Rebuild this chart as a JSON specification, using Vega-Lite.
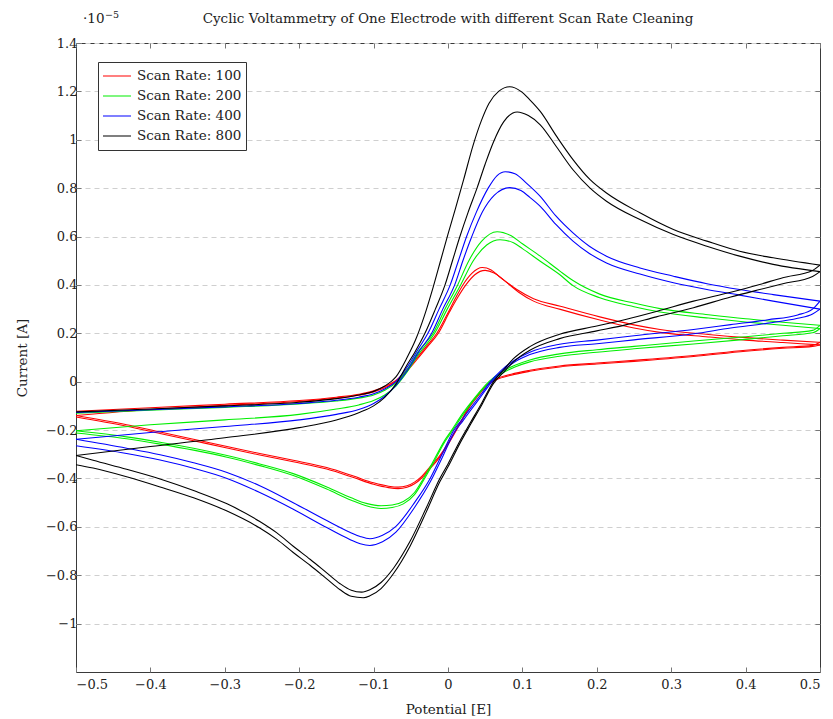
{
  "$schema": "https://vega.github.io/schema/vega-lite/v6.json",
  "width": 744,
  "height": 629,
  "autosize": {"type": "none"},
  "padding": {"left": 76, "top": 43, "right": 13, "bottom": 47},
  "background": "white",
  "title": {
    "text": "Cyclic Voltammetry of One Electrode with different Scan Rate Cleaning",
    "font": "DejaVu Serif",
    "fontSize": 13.5,
    "fontWeight": "normal",
    "color": "#222",
    "anchor": "middle",
    "baseline": "alphabetic",
    "offset": -26
  },
  "config": {
    "view": {"stroke": "#3a3a3a", "strokeWidth": 1},
    "font": "DejaVu Serif",
    "axis": {
      "labelFont": "DejaVu Serif",
      "labelFontSize": 13,
      "labelColor": "#222",
      "titleFont": "DejaVu Serif",
      "titleFontSize": 13.5,
      "titleFontWeight": "normal",
      "titleColor": "#222",
      "tickColor": "#777",
      "tickSize": -5,
      "domain": false,
      "grid": false
    }
  },
  "datasets": {
    "cv": [
      {"rate":100,"pass":"f1","E":-0.5,"I":-0.122},{"rate":100,"pass":"f1","E":-0.4,"I":-0.108},{"rate":100,"pass":"f1","E":-0.3,"I":-0.093},{"rate":100,"pass":"f1","E":-0.2,"I":-0.078},{"rate":100,"pass":"f1","E":-0.15,"I":-0.064},{"rate":100,"pass":"f1","E":-0.12,"I":-0.052},{"rate":100,"pass":"f1","E":-0.1,"I":-0.038},{"rate":100,"pass":"f1","E":-0.085,"I":-0.02},{"rate":100,"pass":"f1","E":-0.07,"I":0.005},{"rate":100,"pass":"f1","E":-0.055,"I":0.05},{"rate":100,"pass":"f1","E":-0.04,"I":0.105},{"rate":100,"pass":"f1","E":-0.028,"I":0.15},{"rate":100,"pass":"f1","E":-0.015,"I":0.2},{"rate":100,"pass":"f1","E":0.0,"I":0.285},{"rate":100,"pass":"f1","E":0.01,"I":0.345},{"rate":100,"pass":"f1","E":0.02,"I":0.4},{"rate":100,"pass":"f1","E":0.032,"I":0.448},{"rate":100,"pass":"f1","E":0.046,"I":0.472},{"rate":100,"pass":"f1","E":0.058,"I":0.462},{"rate":100,"pass":"f1","E":0.07,"I":0.432},{"rate":100,"pass":"f1","E":0.092,"I":0.382},{"rate":100,"pass":"f1","E":0.115,"I":0.343},{"rate":100,"pass":"f1","E":0.151,"I":0.312},{"rate":100,"pass":"f1","E":0.204,"I":0.268},{"rate":100,"pass":"f1","E":0.25,"I":0.235},{"rate":100,"pass":"f1","E":0.285,"I":0.216},{"rate":100,"pass":"f1","E":0.35,"I":0.195},{"rate":100,"pass":"f1","E":0.4,"I":0.182},{"rate":100,"pass":"f1","E":0.45,"I":0.172},{"rate":100,"pass":"f1","E":0.5,"I":0.163},
      {"rate":100,"pass":"r1","E":0.5,"I":0.163},{"rate":100,"pass":"r1","E":0.49,"I":0.15},{"rate":100,"pass":"r1","E":0.45,"I":0.142},{"rate":100,"pass":"r1","E":0.4,"I":0.13},{"rate":100,"pass":"r1","E":0.33,"I":0.108},{"rate":100,"pass":"r1","E":0.25,"I":0.088},{"rate":100,"pass":"r1","E":0.2,"I":0.077},{"rate":100,"pass":"r1","E":0.15,"I":0.065},{"rate":100,"pass":"r1","E":0.11,"I":0.047},{"rate":100,"pass":"r1","E":0.085,"I":0.031},{"rate":100,"pass":"r1","E":0.065,"I":0.012},{"rate":100,"pass":"r1","E":0.053,"I":-0.01},{"rate":100,"pass":"r1","E":0.04,"I":-0.055},{"rate":100,"pass":"r1","E":0.03,"I":-0.095},{"rate":100,"pass":"r1","E":0.016,"I":-0.17},{"rate":100,"pass":"r1","E":0.0,"I":-0.255},{"rate":100,"pass":"r1","E":-0.012,"I":-0.31},{"rate":100,"pass":"r1","E":-0.025,"I":-0.355},{"rate":100,"pass":"r1","E":-0.035,"I":-0.39},{"rate":100,"pass":"r1","E":-0.045,"I":-0.415},{"rate":100,"pass":"r1","E":-0.055,"I":-0.43},{"rate":100,"pass":"r1","E":-0.067,"I":-0.436},{"rate":100,"pass":"r1","E":-0.08,"I":-0.432},{"rate":100,"pass":"r1","E":-0.1,"I":-0.418},{"rate":100,"pass":"r1","E":-0.127,"I":-0.39},{"rate":100,"pass":"r1","E":-0.163,"I":-0.355},{"rate":100,"pass":"r1","E":-0.208,"I":-0.325},{"rate":100,"pass":"r1","E":-0.253,"I":-0.297},{"rate":100,"pass":"r1","E":-0.297,"I":-0.268},{"rate":100,"pass":"r1","E":-0.342,"I":-0.238},{"rate":100,"pass":"r1","E":-0.387,"I":-0.208},{"rate":100,"pass":"r1","E":-0.432,"I":-0.178},{"rate":100,"pass":"r1","E":-0.5,"I":-0.14},
      {"rate":100,"pass":"f2","E":-0.5,"I":-0.14},{"rate":100,"pass":"f2","E":-0.4,"I":-0.115},{"rate":100,"pass":"f2","E":-0.3,"I":-0.098},{"rate":100,"pass":"f2","E":-0.2,"I":-0.082},{"rate":100,"pass":"f2","E":-0.15,"I":-0.068},{"rate":100,"pass":"f2","E":-0.12,"I":-0.056},{"rate":100,"pass":"f2","E":-0.1,"I":-0.042},{"rate":100,"pass":"f2","E":-0.085,"I":-0.025},{"rate":100,"pass":"f2","E":-0.07,"I":0.0},{"rate":100,"pass":"f2","E":-0.055,"I":0.044},{"rate":100,"pass":"f2","E":-0.04,"I":0.098},{"rate":100,"pass":"f2","E":-0.028,"I":0.143},{"rate":100,"pass":"f2","E":-0.013,"I":0.2},{"rate":100,"pass":"f2","E":0.002,"I":0.288},{"rate":100,"pass":"f2","E":0.013,"I":0.348},{"rate":100,"pass":"f2","E":0.024,"I":0.4},{"rate":100,"pass":"f2","E":0.036,"I":0.442},{"rate":100,"pass":"f2","E":0.05,"I":0.46},{"rate":100,"pass":"f2","E":0.062,"I":0.449},{"rate":100,"pass":"f2","E":0.075,"I":0.42},{"rate":100,"pass":"f2","E":0.095,"I":0.37},{"rate":100,"pass":"f2","E":0.115,"I":0.333},{"rate":100,"pass":"f2","E":0.151,"I":0.299},{"rate":100,"pass":"f2","E":0.204,"I":0.255},{"rate":100,"pass":"f2","E":0.25,"I":0.222},{"rate":100,"pass":"f2","E":0.285,"I":0.204},{"rate":100,"pass":"f2","E":0.35,"I":0.185},{"rate":100,"pass":"f2","E":0.4,"I":0.172},{"rate":100,"pass":"f2","E":0.45,"I":0.162},{"rate":100,"pass":"f2","E":0.5,"I":0.152},
      {"rate":100,"pass":"r2","E":0.5,"I":0.152},{"rate":100,"pass":"r2","E":0.49,"I":0.146},{"rate":100,"pass":"r2","E":0.45,"I":0.138},{"rate":100,"pass":"r2","E":0.4,"I":0.126},{"rate":100,"pass":"r2","E":0.33,"I":0.104},{"rate":100,"pass":"r2","E":0.25,"I":0.084},{"rate":100,"pass":"r2","E":0.2,"I":0.073},{"rate":100,"pass":"r2","E":0.15,"I":0.061},{"rate":100,"pass":"r2","E":0.11,"I":0.043},{"rate":100,"pass":"r2","E":0.085,"I":0.027},{"rate":100,"pass":"r2","E":0.065,"I":0.008},{"rate":100,"pass":"r2","E":0.053,"I":-0.014},{"rate":100,"pass":"r2","E":0.04,"I":-0.06},{"rate":100,"pass":"r2","E":0.03,"I":-0.1},{"rate":100,"pass":"r2","E":0.016,"I":-0.175},{"rate":100,"pass":"r2","E":0.0,"I":-0.26},{"rate":100,"pass":"r2","E":-0.012,"I":-0.316},{"rate":100,"pass":"r2","E":-0.025,"I":-0.362},{"rate":100,"pass":"r2","E":-0.035,"I":-0.397},{"rate":100,"pass":"r2","E":-0.045,"I":-0.422},{"rate":100,"pass":"r2","E":-0.055,"I":-0.436},{"rate":100,"pass":"r2","E":-0.067,"I":-0.442},{"rate":100,"pass":"r2","E":-0.08,"I":-0.438},{"rate":100,"pass":"r2","E":-0.1,"I":-0.424},{"rate":100,"pass":"r2","E":-0.127,"I":-0.396},{"rate":100,"pass":"r2","E":-0.163,"I":-0.361},{"rate":100,"pass":"r2","E":-0.208,"I":-0.331},{"rate":100,"pass":"r2","E":-0.253,"I":-0.303},{"rate":100,"pass":"r2","E":-0.297,"I":-0.274},{"rate":100,"pass":"r2","E":-0.342,"I":-0.244},{"rate":100,"pass":"r2","E":-0.387,"I":-0.214},{"rate":100,"pass":"r2","E":-0.432,"I":-0.184},{"rate":100,"pass":"r2","E":-0.5,"I":-0.146},

      {"rate":200,"pass":"f1","E":-0.5,"I":-0.13},{"rate":200,"pass":"f1","E":-0.4,"I":-0.118},{"rate":200,"pass":"f1","E":-0.3,"I":-0.106},{"rate":200,"pass":"f1","E":-0.2,"I":-0.092},{"rate":200,"pass":"f1","E":-0.15,"I":-0.08},{"rate":200,"pass":"f1","E":-0.12,"I":-0.068},{"rate":200,"pass":"f1","E":-0.1,"I":-0.055},{"rate":200,"pass":"f1","E":-0.085,"I":-0.035},{"rate":200,"pass":"f1","E":-0.07,"I":-0.005},{"rate":200,"pass":"f1","E":-0.055,"I":0.05},{"rate":200,"pass":"f1","E":-0.04,"I":0.125},{"rate":200,"pass":"f1","E":-0.02,"I":0.2},{"rate":200,"pass":"f1","E":-0.004,"I":0.3},{"rate":200,"pass":"f1","E":0.013,"I":0.4},{"rate":200,"pass":"f1","E":0.028,"I":0.5},{"rate":200,"pass":"f1","E":0.045,"I":0.58},{"rate":200,"pass":"f1","E":0.066,"I":0.62},{"rate":200,"pass":"f1","E":0.085,"I":0.603},{"rate":200,"pass":"f1","E":0.1,"I":0.57},{"rate":200,"pass":"f1","E":0.124,"I":0.519},{"rate":200,"pass":"f1","E":0.15,"I":0.458},{"rate":200,"pass":"f1","E":0.168,"I":0.418},{"rate":200,"pass":"f1","E":0.204,"I":0.362},{"rate":200,"pass":"f1","E":0.25,"I":0.325},{"rate":200,"pass":"f1","E":0.285,"I":0.302},{"rate":200,"pass":"f1","E":0.35,"I":0.277},{"rate":200,"pass":"f1","E":0.4,"I":0.26},{"rate":200,"pass":"f1","E":0.45,"I":0.246},{"rate":200,"pass":"f1","E":0.5,"I":0.233},
      {"rate":200,"pass":"r1","E":0.5,"I":0.233},{"rate":200,"pass":"r1","E":0.49,"I":0.212},{"rate":200,"pass":"r1","E":0.45,"I":0.2},{"rate":200,"pass":"r1","E":0.4,"I":0.186},{"rate":200,"pass":"r1","E":0.33,"I":0.168},{"rate":200,"pass":"r1","E":0.25,"I":0.146},{"rate":200,"pass":"r1","E":0.2,"I":0.132},{"rate":200,"pass":"r1","E":0.15,"I":0.115},{"rate":200,"pass":"r1","E":0.11,"I":0.09},{"rate":200,"pass":"r1","E":0.09,"I":0.068},{"rate":200,"pass":"r1","E":0.07,"I":0.036},{"rate":200,"pass":"r1","E":0.055,"I":0.0},{"rate":200,"pass":"r1","E":0.035,"I":-0.07},{"rate":200,"pass":"r1","E":0.02,"I":-0.13},{"rate":200,"pass":"r1","E":0.005,"I":-0.2},{"rate":200,"pass":"r1","E":-0.005,"I":-0.245},{"rate":200,"pass":"r1","E":-0.02,"I":-0.33},{"rate":200,"pass":"r1","E":-0.033,"I":-0.4},{"rate":200,"pass":"r1","E":-0.045,"I":-0.458},{"rate":200,"pass":"r1","E":-0.06,"I":-0.495},{"rate":200,"pass":"r1","E":-0.075,"I":-0.51},{"rate":200,"pass":"r1","E":-0.09,"I":-0.513},{"rate":200,"pass":"r1","E":-0.11,"I":-0.503},{"rate":200,"pass":"r1","E":-0.13,"I":-0.48},{"rate":200,"pass":"r1","E":-0.163,"I":-0.435},{"rate":200,"pass":"r1","E":-0.208,"I":-0.38},{"rate":200,"pass":"r1","E":-0.253,"I":-0.34},{"rate":200,"pass":"r1","E":-0.297,"I":-0.305},{"rate":200,"pass":"r1","E":-0.342,"I":-0.275},{"rate":200,"pass":"r1","E":-0.387,"I":-0.25},{"rate":200,"pass":"r1","E":-0.432,"I":-0.228},{"rate":200,"pass":"r1","E":-0.5,"I":-0.203},
      {"rate":200,"pass":"f2","E":-0.5,"I":-0.203},{"rate":200,"pass":"f2","E":-0.4,"I":-0.178},{"rate":200,"pass":"f2","E":-0.3,"I":-0.158},{"rate":200,"pass":"f2","E":-0.2,"I":-0.135},{"rate":200,"pass":"f2","E":-0.15,"I":-0.113},{"rate":200,"pass":"f2","E":-0.12,"I":-0.096},{"rate":200,"pass":"f2","E":-0.1,"I":-0.078},{"rate":200,"pass":"f2","E":-0.085,"I":-0.055},{"rate":200,"pass":"f2","E":-0.07,"I":-0.018},{"rate":200,"pass":"f2","E":-0.055,"I":0.04},{"rate":200,"pass":"f2","E":-0.04,"I":0.112},{"rate":200,"pass":"f2","E":-0.018,"I":0.2},{"rate":200,"pass":"f2","E":-0.001,"I":0.3},{"rate":200,"pass":"f2","E":0.017,"I":0.4},{"rate":200,"pass":"f2","E":0.034,"I":0.5},{"rate":200,"pass":"f2","E":0.052,"I":0.565},{"rate":200,"pass":"f2","E":0.07,"I":0.587},{"rate":200,"pass":"f2","E":0.088,"I":0.574},{"rate":200,"pass":"f2","E":0.1,"I":0.55},{"rate":200,"pass":"f2","E":0.124,"I":0.498},{"rate":200,"pass":"f2","E":0.15,"I":0.443},{"rate":200,"pass":"f2","E":0.168,"I":0.397},{"rate":200,"pass":"f2","E":0.204,"I":0.347},{"rate":200,"pass":"f2","E":0.25,"I":0.31},{"rate":200,"pass":"f2","E":0.285,"I":0.288},{"rate":200,"pass":"f2","E":0.35,"I":0.263},{"rate":200,"pass":"f2","E":0.4,"I":0.247},{"rate":200,"pass":"f2","E":0.45,"I":0.233},{"rate":200,"pass":"f2","E":0.5,"I":0.22},
      {"rate":200,"pass":"r2","E":0.5,"I":0.22},{"rate":200,"pass":"r2","E":0.49,"I":0.202},{"rate":200,"pass":"r2","E":0.45,"I":0.19},{"rate":200,"pass":"r2","E":0.4,"I":0.175},{"rate":200,"pass":"r2","E":0.33,"I":0.156},{"rate":200,"pass":"r2","E":0.25,"I":0.136},{"rate":200,"pass":"r2","E":0.2,"I":0.122},{"rate":200,"pass":"r2","E":0.15,"I":0.105},{"rate":200,"pass":"r2","E":0.11,"I":0.082},{"rate":200,"pass":"r2","E":0.09,"I":0.061},{"rate":200,"pass":"r2","E":0.07,"I":0.03},{"rate":200,"pass":"r2","E":0.055,"I":-0.005},{"rate":200,"pass":"r2","E":0.035,"I":-0.075},{"rate":200,"pass":"r2","E":0.02,"I":-0.137},{"rate":200,"pass":"r2","E":0.005,"I":-0.207},{"rate":200,"pass":"r2","E":-0.005,"I":-0.252},{"rate":200,"pass":"r2","E":-0.02,"I":-0.338},{"rate":200,"pass":"r2","E":-0.033,"I":-0.408},{"rate":200,"pass":"r2","E":-0.045,"I":-0.467},{"rate":200,"pass":"r2","E":-0.06,"I":-0.505},{"rate":200,"pass":"r2","E":-0.075,"I":-0.52},{"rate":200,"pass":"r2","E":-0.09,"I":-0.524},{"rate":200,"pass":"r2","E":-0.11,"I":-0.513},{"rate":200,"pass":"r2","E":-0.13,"I":-0.49},{"rate":200,"pass":"r2","E":-0.163,"I":-0.444},{"rate":200,"pass":"r2","E":-0.208,"I":-0.388},{"rate":200,"pass":"r2","E":-0.253,"I":-0.347},{"rate":200,"pass":"r2","E":-0.297,"I":-0.312},{"rate":200,"pass":"r2","E":-0.342,"I":-0.283},{"rate":200,"pass":"r2","E":-0.387,"I":-0.258},{"rate":200,"pass":"r2","E":-0.432,"I":-0.236},{"rate":200,"pass":"r2","E":-0.5,"I":-0.212},

      {"rate":400,"pass":"f1","E":-0.5,"I":-0.127},{"rate":400,"pass":"f1","E":-0.4,"I":-0.116},{"rate":400,"pass":"f1","E":-0.3,"I":-0.104},{"rate":400,"pass":"f1","E":-0.2,"I":-0.09},{"rate":400,"pass":"f1","E":-0.15,"I":-0.077},{"rate":400,"pass":"f1","E":-0.12,"I":-0.064},{"rate":400,"pass":"f1","E":-0.1,"I":-0.05},{"rate":400,"pass":"f1","E":-0.085,"I":-0.03},{"rate":400,"pass":"f1","E":-0.07,"I":0.0},{"rate":400,"pass":"f1","E":-0.055,"I":0.06},{"rate":400,"pass":"f1","E":-0.04,"I":0.135},{"rate":400,"pass":"f1","E":-0.027,"I":0.2},{"rate":400,"pass":"f1","E":-0.012,"I":0.3},{"rate":400,"pass":"f1","E":0.003,"I":0.4},{"rate":400,"pass":"f1","E":0.014,"I":0.5},{"rate":400,"pass":"f1","E":0.025,"I":0.6},{"rate":400,"pass":"f1","E":0.038,"I":0.7},{"rate":400,"pass":"f1","E":0.054,"I":0.8},{"rate":400,"pass":"f1","E":0.066,"I":0.852},{"rate":400,"pass":"f1","E":0.077,"I":0.868},{"rate":400,"pass":"f1","E":0.09,"I":0.86},{"rate":400,"pass":"f1","E":0.105,"I":0.822},{"rate":400,"pass":"f1","E":0.124,"I":0.766},{"rate":400,"pass":"f1","E":0.145,"I":0.685},{"rate":400,"pass":"f1","E":0.168,"I":0.615},{"rate":400,"pass":"f1","E":0.19,"I":0.56},{"rate":400,"pass":"f1","E":0.213,"I":0.519},{"rate":400,"pass":"f1","E":0.258,"I":0.47},{"rate":400,"pass":"f1","E":0.303,"I":0.436},{"rate":400,"pass":"f1","E":0.348,"I":0.405},{"rate":400,"pass":"f1","E":0.392,"I":0.381},{"rate":400,"pass":"f1","E":0.437,"I":0.36},{"rate":400,"pass":"f1","E":0.5,"I":0.333},
      {"rate":400,"pass":"r1","E":0.5,"I":0.333},{"rate":400,"pass":"r1","E":0.49,"I":0.3},{"rate":400,"pass":"r1","E":0.47,"I":0.276},{"rate":400,"pass":"r1","E":0.43,"I":0.256},{"rate":400,"pass":"r1","E":0.38,"I":0.236},{"rate":400,"pass":"r1","E":0.33,"I":0.216},{"rate":400,"pass":"r1","E":0.25,"I":0.19},{"rate":400,"pass":"r1","E":0.2,"I":0.172},{"rate":400,"pass":"r1","E":0.15,"I":0.155},{"rate":400,"pass":"r1","E":0.11,"I":0.122},{"rate":400,"pass":"r1","E":0.09,"I":0.09},{"rate":400,"pass":"r1","E":0.072,"I":0.048},{"rate":400,"pass":"r1","E":0.057,"I":0.0},{"rate":400,"pass":"r1","E":0.045,"I":-0.05},{"rate":400,"pass":"r1","E":0.03,"I":-0.11},{"rate":400,"pass":"r1","E":0.02,"I":-0.152},{"rate":400,"pass":"r1","E":0.008,"I":-0.2},{"rate":400,"pass":"r1","E":-0.008,"I":-0.3},{"rate":400,"pass":"r1","E":-0.024,"I":-0.4},{"rate":400,"pass":"r1","E":-0.045,"I":-0.5},{"rate":400,"pass":"r1","E":-0.07,"I":-0.598},{"rate":400,"pass":"r1","E":-0.088,"I":-0.635},{"rate":400,"pass":"r1","E":-0.105,"I":-0.649},{"rate":400,"pass":"r1","E":-0.118,"I":-0.64},{"rate":400,"pass":"r1","E":-0.132,"I":-0.622},{"rate":400,"pass":"r1","E":-0.163,"I":-0.574},{"rate":400,"pass":"r1","E":-0.208,"I":-0.5},{"rate":400,"pass":"r1","E":-0.253,"I":-0.43},{"rate":400,"pass":"r1","E":-0.297,"I":-0.375},{"rate":400,"pass":"r1","E":-0.342,"I":-0.335},{"rate":400,"pass":"r1","E":-0.387,"I":-0.302},{"rate":400,"pass":"r1","E":-0.432,"I":-0.275},{"rate":400,"pass":"r1","E":-0.5,"I":-0.238},
      {"rate":400,"pass":"f2","E":-0.5,"I":-0.238},{"rate":400,"pass":"f2","E":-0.4,"I":-0.21},{"rate":400,"pass":"f2","E":-0.3,"I":-0.185},{"rate":400,"pass":"f2","E":-0.2,"I":-0.158},{"rate":400,"pass":"f2","E":-0.15,"I":-0.135},{"rate":400,"pass":"f2","E":-0.12,"I":-0.115},{"rate":400,"pass":"f2","E":-0.1,"I":-0.09},{"rate":400,"pass":"f2","E":-0.085,"I":-0.06},{"rate":400,"pass":"f2","E":-0.07,"I":-0.015},{"rate":400,"pass":"f2","E":-0.055,"I":0.045},{"rate":400,"pass":"f2","E":-0.04,"I":0.12},{"rate":400,"pass":"f2","E":-0.022,"I":0.2},{"rate":400,"pass":"f2","E":-0.007,"I":0.3},{"rate":400,"pass":"f2","E":0.009,"I":0.4},{"rate":400,"pass":"f2","E":0.02,"I":0.5},{"rate":400,"pass":"f2","E":0.032,"I":0.6},{"rate":400,"pass":"f2","E":0.046,"I":0.7},{"rate":400,"pass":"f2","E":0.062,"I":0.77},{"rate":400,"pass":"f2","E":0.083,"I":0.802},{"rate":400,"pass":"f2","E":0.098,"I":0.79},{"rate":400,"pass":"f2","E":0.11,"I":0.762},{"rate":400,"pass":"f2","E":0.124,"I":0.725},{"rate":400,"pass":"f2","E":0.145,"I":0.65},{"rate":400,"pass":"f2","E":0.168,"I":0.581},{"rate":400,"pass":"f2","E":0.19,"I":0.53},{"rate":400,"pass":"f2","E":0.213,"I":0.491},{"rate":400,"pass":"f2","E":0.258,"I":0.445},{"rate":400,"pass":"f2","E":0.303,"I":0.409},{"rate":400,"pass":"f2","E":0.348,"I":0.381},{"rate":400,"pass":"f2","E":0.392,"I":0.358},{"rate":400,"pass":"f2","E":0.437,"I":0.333},{"rate":400,"pass":"f2","E":0.5,"I":0.3},
      {"rate":400,"pass":"r2","E":0.5,"I":0.3},{"rate":400,"pass":"r2","E":0.49,"I":0.28},{"rate":400,"pass":"r2","E":0.47,"I":0.262},{"rate":400,"pass":"r2","E":0.43,"I":0.242},{"rate":400,"pass":"r2","E":0.38,"I":0.222},{"rate":400,"pass":"r2","E":0.33,"I":0.198},{"rate":400,"pass":"r2","E":0.25,"I":0.173},{"rate":400,"pass":"r2","E":0.2,"I":0.157},{"rate":400,"pass":"r2","E":0.15,"I":0.142},{"rate":400,"pass":"r2","E":0.11,"I":0.112},{"rate":400,"pass":"r2","E":0.09,"I":0.082},{"rate":400,"pass":"r2","E":0.072,"I":0.04},{"rate":400,"pass":"r2","E":0.057,"I":-0.008},{"rate":400,"pass":"r2","E":0.045,"I":-0.058},{"rate":400,"pass":"r2","E":0.03,"I":-0.12},{"rate":400,"pass":"r2","E":0.02,"I":-0.162},{"rate":400,"pass":"r2","E":0.008,"I":-0.212},{"rate":400,"pass":"r2","E":-0.008,"I":-0.315},{"rate":400,"pass":"r2","E":-0.024,"I":-0.415},{"rate":400,"pass":"r2","E":-0.045,"I":-0.52},{"rate":400,"pass":"r2","E":-0.07,"I":-0.622},{"rate":400,"pass":"r2","E":-0.088,"I":-0.662},{"rate":400,"pass":"r2","E":-0.105,"I":-0.677},{"rate":400,"pass":"r2","E":-0.118,"I":-0.67},{"rate":400,"pass":"r2","E":-0.132,"I":-0.652},{"rate":400,"pass":"r2","E":-0.163,"I":-0.603},{"rate":400,"pass":"r2","E":-0.208,"I":-0.527},{"rate":400,"pass":"r2","E":-0.253,"I":-0.458},{"rate":400,"pass":"r2","E":-0.297,"I":-0.4},{"rate":400,"pass":"r2","E":-0.342,"I":-0.358},{"rate":400,"pass":"r2","E":-0.387,"I":-0.324},{"rate":400,"pass":"r2","E":-0.432,"I":-0.297},{"rate":400,"pass":"r2","E":-0.5,"I":-0.265},

      {"rate":800,"pass":"f1","E":-0.5,"I":-0.125},{"rate":800,"pass":"f1","E":-0.4,"I":-0.113},{"rate":800,"pass":"f1","E":-0.3,"I":-0.1},{"rate":800,"pass":"f1","E":-0.2,"I":-0.085},{"rate":800,"pass":"f1","E":-0.15,"I":-0.07},{"rate":800,"pass":"f1","E":-0.12,"I":-0.055},{"rate":800,"pass":"f1","E":-0.1,"I":-0.04},{"rate":800,"pass":"f1","E":-0.085,"I":-0.018},{"rate":800,"pass":"f1","E":-0.07,"I":0.02},{"rate":800,"pass":"f1","E":-0.055,"I":0.1},{"rate":800,"pass":"f1","E":-0.044,"I":0.17},{"rate":800,"pass":"f1","E":-0.032,"I":0.27},{"rate":800,"pass":"f1","E":-0.02,"I":0.39},{"rate":800,"pass":"f1","E":-0.01,"I":0.5},{"rate":800,"pass":"f1","E":0.0,"I":0.61},{"rate":800,"pass":"f1","E":0.01,"I":0.715},{"rate":800,"pass":"f1","E":0.021,"I":0.835},{"rate":800,"pass":"f1","E":0.034,"I":0.98},{"rate":800,"pass":"f1","E":0.045,"I":1.08},{"rate":800,"pass":"f1","E":0.055,"I":1.15},{"rate":800,"pass":"f1","E":0.068,"I":1.2},{"rate":800,"pass":"f1","E":0.083,"I":1.219},{"rate":800,"pass":"f1","E":0.098,"I":1.2},{"rate":800,"pass":"f1","E":0.11,"I":1.165},{"rate":800,"pass":"f1","E":0.124,"I":1.117},{"rate":800,"pass":"f1","E":0.146,"I":1.014},{"rate":800,"pass":"f1","E":0.168,"I":0.918},{"rate":800,"pass":"f1","E":0.191,"I":0.835},{"rate":800,"pass":"f1","E":0.213,"I":0.78},{"rate":800,"pass":"f1","E":0.258,"I":0.698},{"rate":800,"pass":"f1","E":0.303,"I":0.629},{"rate":800,"pass":"f1","E":0.348,"I":0.581},{"rate":800,"pass":"f1","E":0.392,"I":0.539},{"rate":800,"pass":"f1","E":0.437,"I":0.512},{"rate":800,"pass":"f1","E":0.5,"I":0.482},
      {"rate":800,"pass":"r1","E":0.5,"I":0.482},{"rate":800,"pass":"r1","E":0.49,"I":0.46},{"rate":800,"pass":"r1","E":0.45,"I":0.43},{"rate":800,"pass":"r1","E":0.419,"I":0.402},{"rate":800,"pass":"r1","E":0.38,"I":0.37},{"rate":800,"pass":"r1","E":0.33,"I":0.333},{"rate":800,"pass":"r1","E":0.28,"I":0.29},{"rate":800,"pass":"r1","E":0.24,"I":0.258},{"rate":800,"pass":"r1","E":0.2,"I":0.23},{"rate":800,"pass":"r1","E":0.15,"I":0.196},{"rate":800,"pass":"r1","E":0.11,"I":0.145},{"rate":800,"pass":"r1","E":0.088,"I":0.095},{"rate":800,"pass":"r1","E":0.075,"I":0.05},{"rate":800,"pass":"r1","E":0.061,"I":0.0},{"rate":800,"pass":"r1","E":0.045,"I":-0.09},{"rate":800,"pass":"r1","E":0.03,"I":-0.17},{"rate":800,"pass":"r1","E":0.016,"I":-0.245},{"rate":800,"pass":"r1","E":0.0,"I":-0.34},{"rate":800,"pass":"r1","E":-0.011,"I":-0.4},{"rate":800,"pass":"r1","E":-0.029,"I":-0.52},{"rate":800,"pass":"r1","E":-0.051,"I":-0.66},{"rate":800,"pass":"r1","E":-0.073,"I":-0.77},{"rate":800,"pass":"r1","E":-0.09,"I":-0.83},{"rate":800,"pass":"r1","E":-0.105,"I":-0.86},{"rate":800,"pass":"r1","E":-0.116,"I":-0.87},{"rate":800,"pass":"r1","E":-0.13,"I":-0.862},{"rate":800,"pass":"r1","E":-0.145,"I":-0.835},{"rate":800,"pass":"r1","E":-0.163,"I":-0.79},{"rate":800,"pass":"r1","E":-0.185,"I":-0.735},{"rate":800,"pass":"r1","E":-0.208,"I":-0.68},{"rate":800,"pass":"r1","E":-0.23,"I":-0.625},{"rate":800,"pass":"r1","E":-0.253,"I":-0.578},{"rate":800,"pass":"r1","E":-0.297,"I":-0.505},{"rate":800,"pass":"r1","E":-0.342,"I":-0.45},{"rate":800,"pass":"r1","E":-0.387,"I":-0.402},{"rate":800,"pass":"r1","E":-0.432,"I":-0.362},{"rate":800,"pass":"r1","E":-0.477,"I":-0.325},{"rate":800,"pass":"r1","E":-0.5,"I":-0.305},
      {"rate":800,"pass":"f2","E":-0.5,"I":-0.305},{"rate":800,"pass":"f2","E":-0.4,"I":-0.268},{"rate":800,"pass":"f2","E":-0.3,"I":-0.232},{"rate":800,"pass":"f2","E":-0.2,"I":-0.19},{"rate":800,"pass":"f2","E":-0.15,"I":-0.158},{"rate":800,"pass":"f2","E":-0.12,"I":-0.128},{"rate":800,"pass":"f2","E":-0.1,"I":-0.1},{"rate":800,"pass":"f2","E":-0.085,"I":-0.065},{"rate":800,"pass":"f2","E":-0.07,"I":-0.01},{"rate":800,"pass":"f2","E":-0.055,"I":0.07},{"rate":800,"pass":"f2","E":-0.045,"I":0.12},{"rate":800,"pass":"f2","E":-0.031,"I":0.2},{"rate":800,"pass":"f2","E":-0.017,"I":0.3},{"rate":800,"pass":"f2","E":-0.004,"I":0.4},{"rate":800,"pass":"f2","E":0.006,"I":0.5},{"rate":800,"pass":"f2","E":0.016,"I":0.6},{"rate":800,"pass":"f2","E":0.027,"I":0.7},{"rate":800,"pass":"f2","E":0.039,"I":0.8},{"rate":800,"pass":"f2","E":0.05,"I":0.9},{"rate":800,"pass":"f2","E":0.061,"I":0.99},{"rate":800,"pass":"f2","E":0.075,"I":1.075},{"rate":800,"pass":"f2","E":0.093,"I":1.115},{"rate":800,"pass":"f2","E":0.108,"I":1.1},{"rate":800,"pass":"f2","E":0.124,"I":1.062},{"rate":800,"pass":"f2","E":0.146,"I":0.97},{"rate":800,"pass":"f2","E":0.168,"I":0.876},{"rate":800,"pass":"f2","E":0.191,"I":0.8},{"rate":800,"pass":"f2","E":0.213,"I":0.746},{"rate":800,"pass":"f2","E":0.258,"I":0.67},{"rate":800,"pass":"f2","E":0.303,"I":0.608},{"rate":800,"pass":"f2","E":0.348,"I":0.56},{"rate":800,"pass":"f2","E":0.392,"I":0.519},{"rate":800,"pass":"f2","E":0.437,"I":0.485},{"rate":800,"pass":"f2","E":0.5,"I":0.455},
      {"rate":800,"pass":"r2","E":0.5,"I":0.455},{"rate":800,"pass":"r2","E":0.49,"I":0.435},{"rate":800,"pass":"r2","E":0.45,"I":0.405},{"rate":800,"pass":"r2","E":0.419,"I":0.381},{"rate":800,"pass":"r2","E":0.38,"I":0.35},{"rate":800,"pass":"r2","E":0.33,"I":0.306},{"rate":800,"pass":"r2","E":0.28,"I":0.268},{"rate":800,"pass":"r2","E":0.24,"I":0.236},{"rate":800,"pass":"r2","E":0.2,"I":0.21},{"rate":800,"pass":"r2","E":0.15,"I":0.178},{"rate":800,"pass":"r2","E":0.11,"I":0.13},{"rate":800,"pass":"r2","E":0.088,"I":0.082},{"rate":800,"pass":"r2","E":0.075,"I":0.04},{"rate":800,"pass":"r2","E":0.061,"I":-0.008},{"rate":800,"pass":"r2","E":0.045,"I":-0.098},{"rate":800,"pass":"r2","E":0.03,"I":-0.178},{"rate":800,"pass":"r2","E":0.016,"I":-0.255},{"rate":800,"pass":"r2","E":0.0,"I":-0.352},{"rate":800,"pass":"r2","E":-0.011,"I":-0.414},{"rate":800,"pass":"r2","E":-0.029,"I":-0.537},{"rate":800,"pass":"r2","E":-0.051,"I":-0.68},{"rate":800,"pass":"r2","E":-0.073,"I":-0.792},{"rate":800,"pass":"r2","E":-0.09,"I":-0.855},{"rate":800,"pass":"r2","E":-0.105,"I":-0.885},{"rate":800,"pass":"r2","E":-0.114,"I":-0.893},{"rate":800,"pass":"r2","E":-0.13,"I":-0.887},{"rate":800,"pass":"r2","E":-0.145,"I":-0.86},{"rate":800,"pass":"r2","E":-0.163,"I":-0.815},{"rate":800,"pass":"r2","E":-0.185,"I":-0.76},{"rate":800,"pass":"r2","E":-0.208,"I":-0.706},{"rate":800,"pass":"r2","E":-0.23,"I":-0.652},{"rate":800,"pass":"r2","E":-0.253,"I":-0.605},{"rate":800,"pass":"r2","E":-0.297,"I":-0.535},{"rate":800,"pass":"r2","E":-0.342,"I":-0.48},{"rate":800,"pass":"r2","E":-0.387,"I":-0.435},{"rate":800,"pass":"r2","E":-0.432,"I":-0.393},{"rate":800,"pass":"r2","E":-0.477,"I":-0.357},{"rate":800,"pass":"r2","E":-0.5,"I":-0.343}
    ],
    "scale_note": [
      {"base": "·10", "exp": "−5", "E": -0.5, "I": 1.4}
    ]
  },
  "resolve": {"scale": {"x": "independent", "y": "independent"}},
  "layer": [
    {
      "data": {"name": "cv"},
      "mark": {"type": "line", "interpolate": "monotone", "strokeWidth": 1.1, "clip": true},
      "encoding": {
        "x": {
          "field": "E", "type": "quantitative",
          "scale": {"domain": [-0.5, 0.5], "nice": false, "zero": false},
          "axis": {
            "title": "Potential [E]",
            "values": [-0.5, -0.4, -0.3, -0.2, -0.1, 0, 0.1, 0.2, 0.3, 0.4, 0.5],
            "format": "~g",
            "labelPadding": 11,
            "titlePadding": 11
          }
        },
        "y": {
          "field": "I", "type": "quantitative",
          "scale": {"domain": [-1.2, 1.4], "nice": false, "zero": false},
          "axis": {
            "title": "Current [A]",
            "values": [-1, -0.8, -0.6, -0.4, -0.2, 0, 0.2, 0.4, 0.6, 0.8, 1, 1.2, 1.4],
            "format": "~g",
            "labelPadding": 4,
            "titlePadding": 16,
            "grid": true,
            "gridDash": [5, 4],
            "gridColor": "#cfcfcf",
            "gridWidth": 1
          }
        },
        "color": {
          "field": "rate", "type": "nominal",
          "scale": {"domain": [100, 200, 400, 800], "range": ["#ff0000", "#00ee00", "#0000ff", "#000000"]},
          "legend": {
            "title": null,
            "orient": "none",
            "legendX": 22,
            "legendY": 19,
            "fillColor": "white",
            "strokeColor": "#333",
            "padding": 4,
            "symbolType": "stroke",
            "symbolSize": 784,
            "symbolStrokeWidth": 1.2,
            "clipHeight": 20,
            "rowPadding": 0,
            "labelFont": "DejaVu Serif",
            "labelFontSize": 13.5,
            "labelColor": "#222",
            "labelOffset": 5,
            "labelExpr": "'Scan Rate: ' + datum.label"
          }
        },
        "detail": {"field": "pass", "type": "nominal"}
      }
    },
    {
      "data": {"name": "scale_note"},
      "mark": {"type": "text", "align": "left", "baseline": "alphabetic", "dx": 7, "dy": -20, "font": "DejaVu Serif", "fontSize": 13.5, "color": "#222"},
      "encoding": {
        "text": {"field": "base"},
        "x": {
          "field": "E", "type": "quantitative",
          "scale": {"domain": [-0.5, 0.5], "nice": false, "zero": false},
          "axis": {"orient": "top", "labels": false, "title": null, "values": [-0.5, -0.4, -0.3, -0.2, -0.1, 0, 0.1, 0.2, 0.3, 0.4, 0.5]}
        },
        "y": {
          "field": "I", "type": "quantitative",
          "scale": {"domain": [-1.2, 1.4], "nice": false, "zero": false},
          "axis": {"orient": "right", "labels": false, "title": null, "values": [-1, -0.8, -0.6, -0.4, -0.2, 0, 0.2, 0.4, 0.6, 0.8, 1, 1.2, 1.4]}
        }
      }
    },
    {
      "data": {"name": "scale_note"},
      "mark": {"type": "text", "align": "left", "baseline": "alphabetic", "dx": 29, "dy": -25, "font": "DejaVu Serif", "fontSize": 9.5, "color": "#222"},
      "encoding": {
        "text": {"field": "exp"},
        "x": {"field": "E", "type": "quantitative", "scale": {"domain": [-0.5, 0.5], "nice": false, "zero": false}, "axis": null},
        "y": {"field": "I", "type": "quantitative", "scale": {"domain": [-1.2, 1.4], "nice": false, "zero": false}, "axis": null}
      }
    }
  ]
}
